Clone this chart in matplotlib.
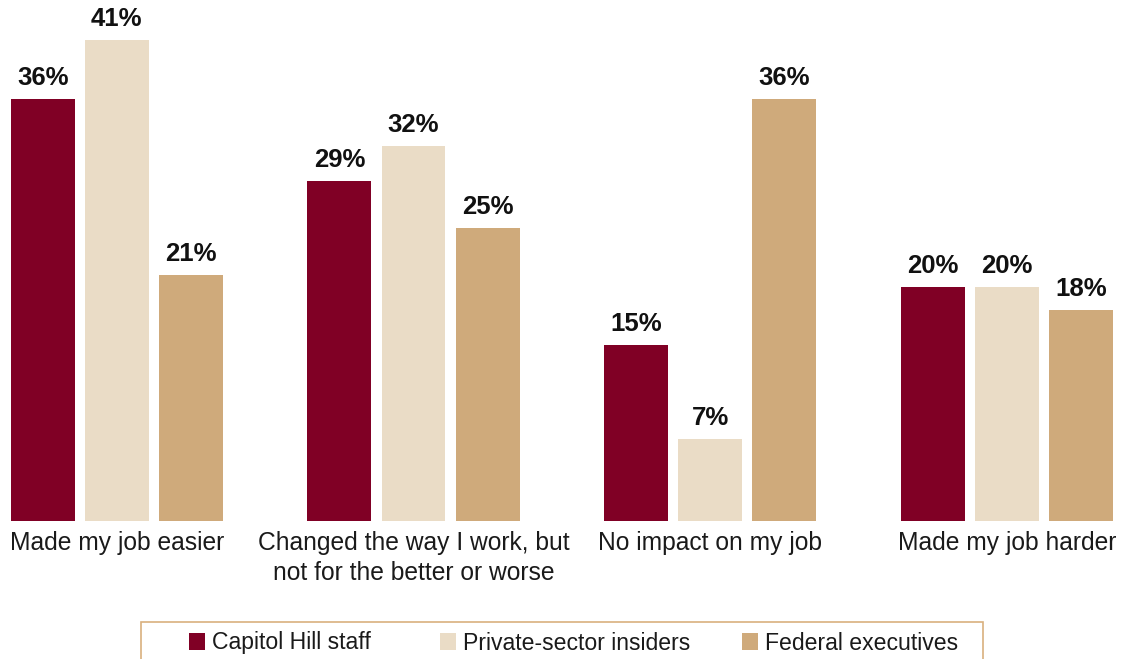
import matplotlib.pyplot as plt
from matplotlib.patches import Rectangle
import numpy as np

plt.rcParams['font.family'] = ['Liberation Sans', 'DejaVu Sans']

categories = ['Made my job easier',
              'Changed the way I work, but\nnot for the better or worse',
              'No impact on my job',
              'Made my job harder']
series = ['Capitol Hill staff', 'Private-sector insiders', 'Federal executives']
capitol = [36, 29, 15, 20]
private = [41, 32, 7, 20]
federal = [21, 25, 36, 18]

colores = ['#800025', '#EADCC6', '#CFAA7B']

W, H = 1123, 659
fig = plt.figure(figsize=(W / 100, H / 100), dpi=100)
ax = fig.add_axes([0, (H - 521) / H, 1, 521 / H])

x = np.arange(len(categories))
ancho = 0.2155
paso = 0.25

barras = []
for k, (vals, c) in enumerate(zip([capitol, private, federal], colores)):
    b = ax.bar(x + (k - 1) * paso, vals, ancho, color=c, label=series[k])
    barras.append(b)
    for xi, v in zip(x + (k - 1) * paso, vals):
        ax.text(xi, v + 1.2, f'{v}%', ha='center', va='baseline',
                fontsize=18.5, fontweight='bold', color='#111111')

ax.set_xlim(-0.394, 3.392)
ax.set_ylim(0, 44.45)
ax.axis('off')

for xi, cat in zip(x, categories):
    ax.text(xi, -0.85, cat, ha='center', va='top', fontsize=17.7,
            color='#1a1a1a', linespacing=1.3)

# caja de la leyenda (cortada abajo como en el original)
caja = Rectangle((141 / W, -0.05), 842 / W, (H - 622) / H + 0.05,
                 transform=fig.transFigure, fill=False,
                 edgecolor='#D9B07E', linewidth=1.2)
fig.add_artist(caja)

# una entrada por leyenda para poder ubicar cada una donde va
pos_leyenda = [189, 440, 742]
for b, nombre, px in zip(barras, series, pos_leyenda):
    leg = fig.legend(handles=[b], labels=[nombre], loc='center left',
                     bbox_to_anchor=(px / W, (H - 643) / H), fontsize=16.6,
                     frameon=False, handlelength=0.7, handleheight=0.7,
                     handletextpad=0.28, borderpad=0, borderaxespad=0)
    for t in leg.get_texts():
        t.set_color('#1a1a1a')

fig.savefig('out.png', dpi=100)
